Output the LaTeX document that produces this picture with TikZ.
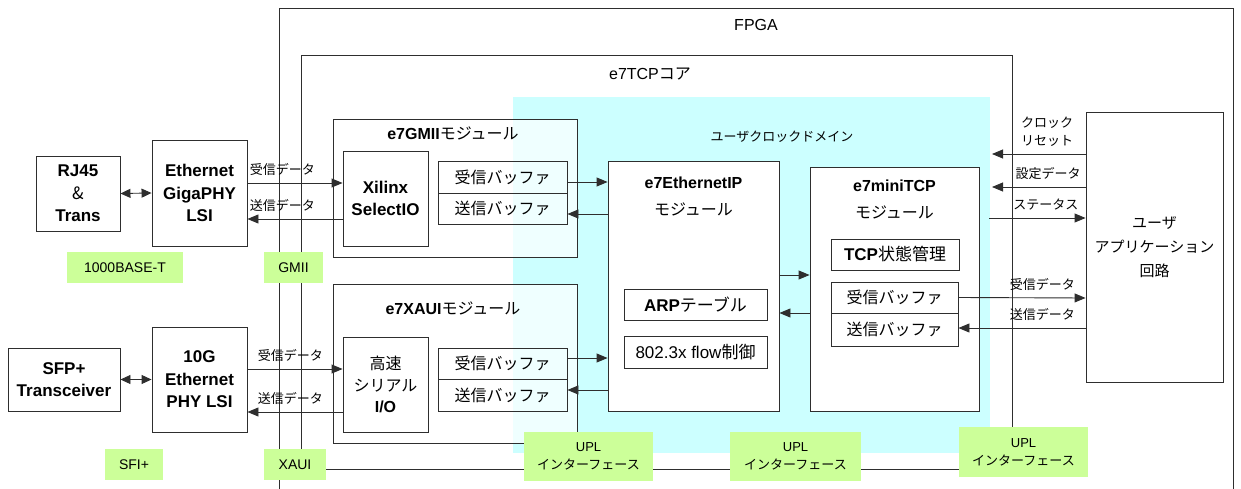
\documentclass[tikz,border=0pt]{standalone}
\usepackage{fontspec}
\setmainfont{Liberation Sans}
\newfontfamily\jpfont{Noto Sans CJK JP}
\newcommand\jtext[1]{{\jpfont\mdseries #1}}
\usetikzlibrary{arrows.meta,positioning,calc,backgrounds}
\definecolor{linecol}{HTML}{2E2E2E}
\definecolor{clkfill}{HTML}{CCFFFF}
\definecolor{tagfill}{HTML}{CCFF99}

\begin{document}
\begin{tikzpicture}[
  x=1pt,y=-1pt,
  line width=0.9pt,
  box/.style args={#1/#2}{draw=linecol,fill=white,align=center,inner sep=0pt,minimum width=#1pt,minimum height=#2pt,font=\fontsize{17}{22.5}\selectfont\bfseries},
  buf/.style args={#1/#2}{draw=linecol,align=center,inner sep=0pt,minimum width=#1pt,minimum height=#2pt,font=\jpfont\fontsize{16}{20}\selectfont},
  module/.style args={#1/#2}{draw=linecol,fill=white,fill opacity=0.7,anchor=north west,inner sep=0pt,minimum width=#1pt,minimum height=#2pt},
  ifbox/.style args={#1/#2}{fill=tagfill,align=center,inner sep=0pt,minimum width=#1pt,minimum height=#2pt,font=\fontsize{14}{18}\selectfont},
  title/.style={align=center,font=\fontsize{16}{27}\selectfont\bfseries},
  lbl/.style={align=center,inner sep=2pt,font=\jpfont\fontsize{13}{18}\selectfont},
  flow/.style={-{Triangle[length=11pt,width=9pt]},draw=linecol},
  bflow/.style={{Triangle[length=11pt,width=9pt]}-,draw=linecol},
  dflow/.style={{Triangle[length=10pt,width=9pt]}-{Triangle[length=10pt,width=9pt]},draw=linecol}
]
\useasboundingbox (0,0) rectangle (1241,489);

% clock domain, FPGA and core frames
\fill[clkfill] (513,97) rectangle (990,453);
\draw[linecol] (279,489) |- (1233,8) -- (1233,489);
\draw[linecol] (301,55) rectangle (1012,469);
\node[font=\fontsize{16}{20}\selectfont] (fpgatitle) at (756,25) {FPGA};
\node[font=\fontsize{16}{20}\selectfont] (coretitle) at (650,74) {e7TCP\jtext{コア}};
\node[lbl] (domaintitle) at (782,137) {ユーザクロックドメイン};

% PHY side
\node[box=84/75] (rj45) at (78,193.5) {RJ45\\\jtext{\&}\\Trans};
\node[box=95/106] (gphy) at (199.5,193) {Ethernet\\GigaPHY\\LSI};
\node[box=112/63] (sfp) at (64,379.5) {SFP+\\Transceiver};
\node[box=95/105] (xphy) at (199.5,379.5) {10G\\Ethernet\\PHY LSI};

% MAC modules
\node[module=244/138] (gmiimod) at (333,119) {};
\node[title] (gmiititle) at (453,133) {e7GMII\jtext{モジュール}};
\node[box=85/95] (xilinx) at (385.5,198.5) {Xilinx\\SelectIO};
\node[buf=129/32] (grx) at (502.5,177) {受信バッファ};
\node[buf=129/31] (gtx) at (502.5,208.5) {送信バッファ};

\node[module=244/159] (xauimod) at (333,284) {};
\node[title] (xauititle) at (453,308) {e7XAUI\jtext{モジュール}};
\node[box=85/95,font=\fontsize{16}{21.5}\selectfont\bfseries] (hss) at (385.5,384.5) {\jtext{高速}\\\jtext{シリアル}\\I/O};
\node[buf=129/31] (xrx) at (502.5,363.5) {受信バッファ};
\node[buf=129/32] (xtx) at (502.5,395) {送信バッファ};

% IP and TCP
\node[box=171/250] (ethip) at (693.5,286) {};
\node[title] (iptitle) at ([yshift=-36pt]ethip.north) {e7EthernetIP\\\jtext{モジュール}};
\node[box=143/31] (arp) at (695.5,304.5) {ARP\jtext{テーブル}};
\node[box=143/32,font=\fontsize{17}{20}\selectfont] (flowctl) at (695.5,352) {802.3x flow\jtext{制御}};

\node[box=169/244] (mtcp) at (894.5,289) {};
\node[title] (tcptitle) at ([yshift=-33pt]mtcp.north) {e7miniTCP\\\jtext{モジュール}};
\node[box=128/31] (tcpstate) at (895,254.5) {TCP\jtext{状態管理}};
\node[buf=127/31,fill=white] (trx) at (894.5,297.5) {受信バッファ};
\node[buf=127/33,fill=white] (ttx) at (894.5,329.5) {送信バッファ};

\node[box=137/270,font=\jpfont\fontsize{15}{24}\selectfont] (userapp) at (1154.5,247) {ユーザ\\アプリケーション\\回路};

% interface tags
\node[ifbox=116/31] (base1000) at (125,267.5) {1000BASE-T};
\node[ifbox=59/31] (gmiitag) at (293.5,267.5) {GMII};
\node[ifbox=58/31] (sfitag) at (134,464.5) {SFI+};
\node[ifbox=62/31] (xauitag) at (295,464.5) {XAUI};
\node[ifbox=129/49,font=\fontsize{13}{18}\selectfont] (upl1) at (588.5,456.5) {UPL\\\jtext{インターフェース}};
\node[ifbox=131/49,font=\fontsize{13}{18}\selectfont] (upl2) at (795.5,456.5) {UPL\\\jtext{インターフェース}};
\node[ifbox=129/50,font=\fontsize{13}{18}\selectfont] (upl3) at (1023.5,452) {UPL\\\jtext{インターフェース}};

\coordinate (clk) at (992,154);
\coordinate (cfg) at (992,187);
\coordinate (stat) at (989,218);

% connections
\draw[dflow] (rj45.east) -- (gphy.west);
\draw[dflow] (sfp.east) -- (xphy.west);
\draw[flow] ([yshift=10pt]gphy.east) -- node[lbl,pos=0,above right,yshift=5pt]{受信データ} ([yshift=15.5pt]xilinx.west);
\draw[bflow] ([yshift=-26pt]gphy.east) -- node[lbl,pos=0,above right,yshift=5pt]{送信データ} ([yshift=-20.5pt]xilinx.west);
\draw[flow] ([yshift=10.5pt]xphy.east) -- node[lbl,pos=0,above right,xshift=8pt,yshift=5pt]{受信データ} ([yshift=15.5pt]hss.west);
\draw[bflow] ([yshift=-32.5pt]xphy.east) -- node[lbl,pos=0,above right,xshift=8pt,yshift=5pt]{送信データ} ([yshift=-27.5pt]hss.west);
\draw[flow] ([yshift=-5pt]grx.east) -- ([yshift=104pt]ethip.west);
\draw[bflow] ([yshift=-5.5pt]gtx.east) -- ([yshift=72pt]ethip.west);
\draw[flow] ([yshift=5.5pt]xrx.east) -- ([yshift=-72pt]ethip.west);
\draw[bflow] ([yshift=5pt]xtx.east) -- ([yshift=-104pt]ethip.west);
\draw[flow] ([yshift=11pt]ethip.east) -- ([yshift=14pt]mtcp.west);
\draw[bflow] ([yshift=-27pt]ethip.east) -- ([yshift=-24pt]mtcp.west);
\draw[flow] (trx.east) -- node[lbl,above,pos=0.66,yshift=5pt]{受信データ} ([yshift=-51pt]userapp.west);
\draw[bflow] ([yshift=1.5pt]ttx.east) -- node[lbl,above,pos=0.66,yshift=5pt]{送信データ} ([yshift=-81pt]userapp.west);
\draw[flow] ([yshift=93pt]userapp.west) -- node[lbl,above,pos=0.41,yshift=5pt]{クロック\\リセット} (clk);
\draw[flow] ([yshift=60pt]userapp.west) -- node[lbl,above,pos=0.4,yshift=5pt]{設定データ} (cfg);
\draw[flow] (stat) -- node[lbl,above,pos=0.59,yshift=5pt]{ステータス} ([yshift=29pt]userapp.west);
\end{tikzpicture}
\end{document}
